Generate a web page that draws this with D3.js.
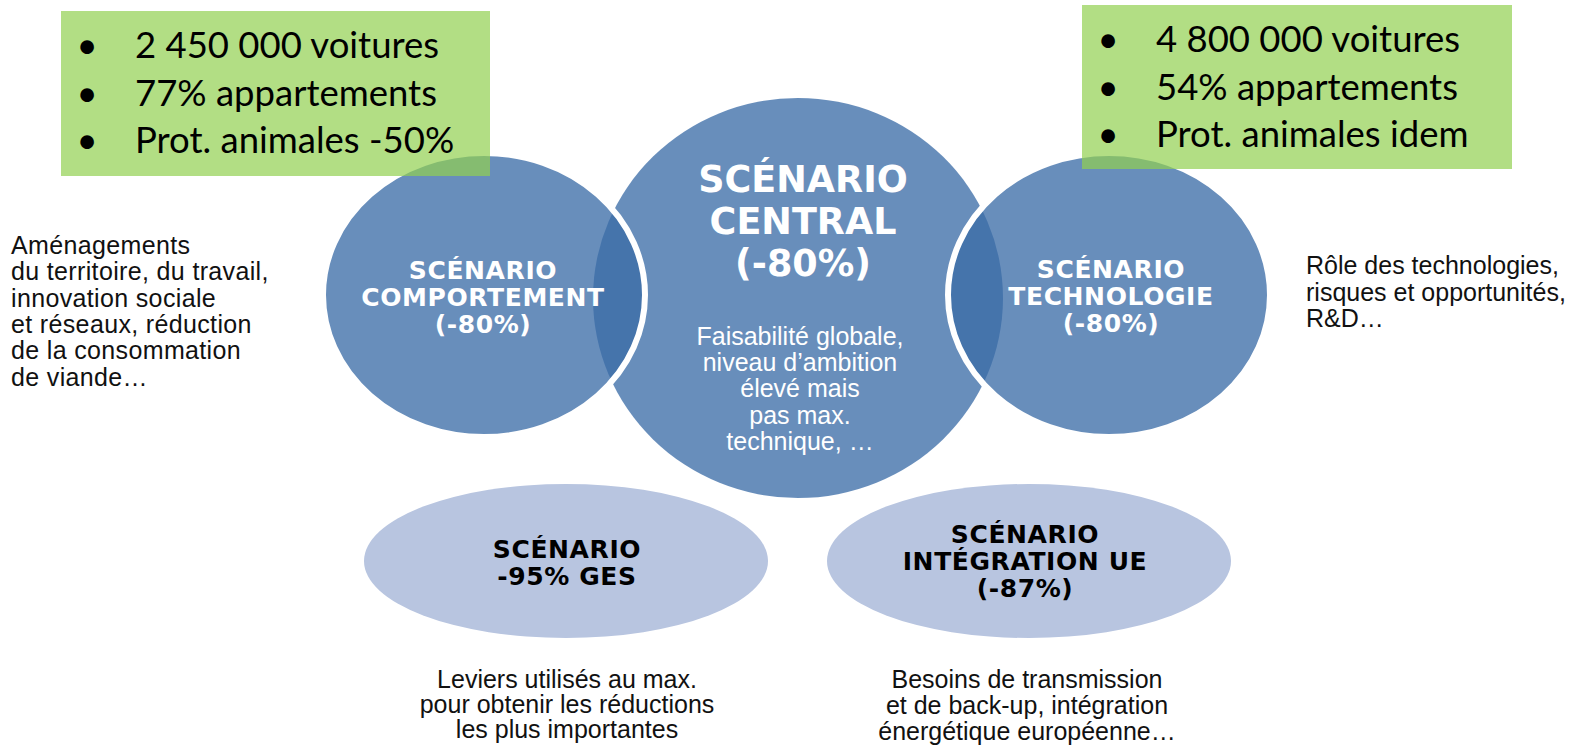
<!DOCTYPE html>
<html>
<head>
<meta charset="utf-8">
<script src="https://cdn.jsdelivr.net/npm/d3@7"></script>
<style>
  html, body { margin: 0; padding: 0; background: #fff; }
  svg { display: block; }
</style>
</head>
<body>
<div id="chart"></div>
<script>
// scenario content
const scenarioIds = ["central", "comportement", "technologie", "ges95", "integration"];
const titleLines = [
  ["SCÉNARIO", "CENTRAL"],
  ["SCÉNARIO", "COMPORTEMENT"],
  ["SCÉNARIO", "TECHNOLOGIE"],
  ["SCÉNARIO", "-95% GES"],
  ["SCÉNARIO", "INTÉGRATION UE"]
];
const reductionLabels = ["(-80%)", "(-80%)", "(-80%)", null, "(-87%)"];
const descriptionLines = [
  ["Faisabilité globale,", "niveau d’ambition", "élevé mais", "pas max.", "technique, …"],
  ["Aménagements", "du territoire, du travail,", "innovation sociale", "et réseaux, réduction", "de la consommation", "de viande…"],
  ["Rôle des technologies,", "risques et opportunités,", "R&D…"],
  ["Leviers utilisés au max.", "pour obtenir les réductions", "les plus importantes"],
  ["Besoins de transmission", "et de back-up, intégration", "énergétique européenne…"]
];
const leftBullets = ["2 450 000 voitures", "77% appartements", "Prot. animales -50%"];
const rightBullets = ["4 800 000 voitures", "54% appartements", "Prot. animales idem"];

// layout (kept apart from the content)
const width = 1577, height = 745;
const shapes = {
  central:      { cx: 798,  cy: 298, rx: 205, ry: 200, fill: "rgb(59,108,166)", op: 0.77, stroke: "none" },
  comportement: { cx: 484,  cy: 295, rx: 161, ry: 142, fill: "rgb(59,108,166)", op: 0.77, stroke: "#fff" },
  technologie:  { cx: 1109, cy: 295, rx: 161, ry: 142, fill: "rgb(59,108,166)", op: 0.77, stroke: "#fff" },
  ges95:        { cx: 566,  cy: 561, rx: 202, ry: 77,  fill: "#b8c5e0", op: 1, stroke: "none" },
  integration:  { cx: 1029, cy: 561, rx: 202, ry: 77,  fill: "#b8c5e0", op: 1, stroke: "none" }
};
const titlePos = {
  central:      { x: 803,  y: 192, step: 42,   size: 36.5, color: "#fff" },
  comportement: { x: 483,  y: 279, step: 26.8, size: 25,   color: "#fff" },
  technologie:  { x: 1111, y: 278, step: 27,   size: 25,   color: "#fff" },
  ges95:        { x: 567,  y: 558, step: 26.8, size: 25,   color: "#000" },
  integration:  { x: 1025, y: 543, step: 26.8, size: 25,   color: "#000" }
};
const descPos = {
  central:      { x: 800,  y: 345, step: 26.2, anchor: "middle", color: "#fff" },
  comportement: { x: 11,   y: 254, step: 26.3, anchor: "start",  color: "#111" },
  technologie:  { x: 1306, y: 274, step: 26.5, anchor: "start",  color: "#111" },
  ges95:        { x: 567,  y: 688, step: 25,   anchor: "middle", color: "#111" },
  integration:  { x: 1027, y: 688, step: 26,   anchor: "middle", color: "#111" }
};
const boxes = [
  { items: leftBullets,  x: 61,   y: 11, w: 429, h: 165 },
  { items: rightBullets, x: 1082, y: 5,  w: 430, h: 164 }
];

const svg = d3.select("#chart").append("svg")
  .attr("width", width)
  .attr("height", height)
  .attr("viewBox", `0 0 ${width} ${height}`);

svg.append("rect").attr("width", width).attr("height", height).attr("fill", "#fff");

const scen = scenarioIds.map((id, i) => ({
  id,
  title: titleLines[i],
  reduction: reductionLabels[i],
  desc: descriptionLines[i]
}));

// ellipses: central first, side circles on top with white rim
svg.append("g")
  .selectAll("ellipse")
  .data(scen)
  .join("ellipse")
  .attr("cx", d => shapes[d.id].cx)
  .attr("cy", d => shapes[d.id].cy)
  .attr("rx", d => shapes[d.id].rx)
  .attr("ry", d => shapes[d.id].ry)
  .attr("fill", d => shapes[d.id].fill)
  .attr("fill-opacity", d => shapes[d.id].op)
  .attr("stroke", d => shapes[d.id].stroke)
  .attr("stroke-width", 6);

// titles
const titles = svg.append("g")
  .attr("font-family", "'DejaVu Sans', sans-serif")
  .attr("font-weight", "bold")
  .attr("text-anchor", "middle")
  .selectAll("text")
  .data(scen)
  .join("text")
  .attr("fill", d => titlePos[d.id].color)
  .attr("font-size", d => titlePos[d.id].size)
  .attr("letter-spacing", d => d.id === "central" ? 0 : 0.6);

titles.selectAll("tspan")
  .data(d => (d.reduction ? d.title.concat([d.reduction]) : d.title)
    .map((t, i) => ({ t, i, p: titlePos[d.id] })))
  .join("tspan")
  .attr("x", d => d.p.x)
  .attr("y", d => d.p.y + d.i * d.p.step)
  .text(d => d.t);

// descriptions
const descs = svg.append("g")
  .attr("font-family", "'Liberation Sans', Arial, sans-serif")
  .attr("font-size", 25)
  .selectAll("text")
  .data(scen)
  .join("text")
  .attr("fill", d => descPos[d.id].color)
  .attr("text-anchor", d => descPos[d.id].anchor)
  .attr("letter-spacing", d => d.id === "comportement" ? 0.35 : 0);

descs.selectAll("tspan")
  .data(d => d.desc.map((t, i) => ({ t, i, p: descPos[d.id] })))
  .join("tspan")
  .attr("x", d => d.p.x)
  .attr("y", d => d.p.y + d.i * d.p.step)
  .text(d => d.t);

// green boxes with bullet lists
const box = svg.append("g")
  .selectAll("g")
  .data(boxes)
  .join("g");

box.append("rect")
  .attr("x", d => d.x)
  .attr("y", d => d.y)
  .attr("width", d => d.w)
  .attr("height", d => d.h)
  .attr("fill", "#92d050")
  .attr("fill-opacity", 0.7);

const lineY = d3.scaleLinear().domain([0, 1]).range([47, 94.5]);

box.each(function(b) {
  const g = d3.select(this);
  g.selectAll("text.bullet")
    .data(b.items)
    .join("text")
    .attr("class", "bullet")
    .attr("x", b.x + 26)
    .attr("y", (d, i) => b.y + lineY(i))
    .attr("text-anchor", "middle")
    .attr("font-family", "Lato, 'Open Sans', sans-serif")
    .attr("font-size", 36.5)
    .attr("fill", "#000")
    .text("•");
  g.selectAll("text.item")
    .data(b.items)
    .join("text")
    .attr("class", "item")
    .attr("x", b.x + 74)
    .attr("y", (d, i) => b.y + lineY(i))
    .attr("font-family", "Lato, 'Open Sans', sans-serif")
    .attr("font-size", 36.5)
    .attr("fill", "#000")
    .text(d => d);
});
</script>
</body>
</html>
